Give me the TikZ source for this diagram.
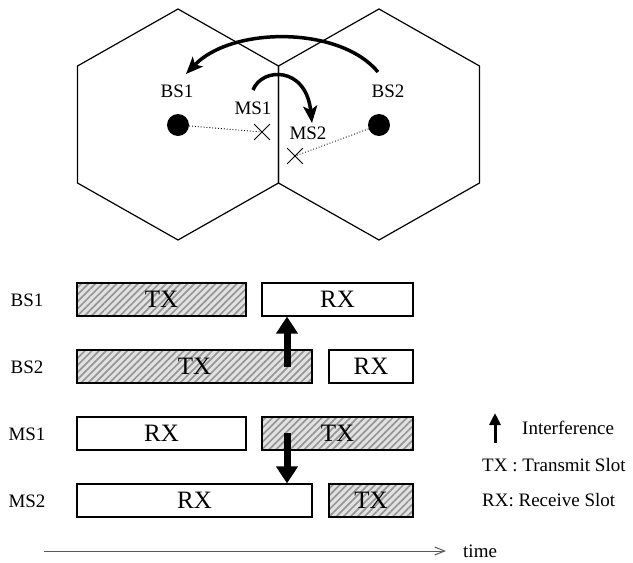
\documentclass[tikz,border=0pt]{standalone}
\usepackage{fontspec}
\setmainfont{Liberation Serif}
\usepackage{xcolor}
\usetikzlibrary{arrows.meta, patterns.meta, shapes.misc}
\definecolor{ink}{RGB}{0,0,0}
\definecolor{hatchbg}{RGB}{226,226,226}
\definecolor{hatchln}{RGB}{150,150,150}
\definecolor{axisgrey}{RGB}{90,90,90}

\begin{document}
\begin{tikzpicture}[x=1pt, y=-1pt,
    cell/.style={draw=ink, line width=1.2pt, line join=miter},
    lbl/.style={font=\fontsize{19}{19}\selectfont, text=ink, inner sep=3pt},
    bsdot/.style={circle, fill=ink, minimum size=22pt, inner sep=0pt},
    mscross/.style={cross out, draw=ink, line width=0.8pt, minimum size=15pt, inner sep=0pt},
    link/.style={dotted, line width=0.9pt, draw=ink},
    hoarc/.style={line width=3.5pt, draw=ink, -{Stealth[length=17pt, width=14pt, inset=4pt]}},
    slot/.style={draw=ink, line width=1.2pt, minimum height=33pt, inner sep=0pt,
                 font=\fontsize{25}{25}\selectfont},
    txslot/.style={slot, preaction={fill=hatchbg},
                   pattern={Lines[angle=45, distance=5pt, line width=1.7pt]}, pattern color=hatchln},
    intf/.style={line width=7pt, draw=ink, -{Triangle[length=17pt, width=21pt]}},
    legarrow/.style={line width=3pt, draw=ink, -{Triangle[length=12pt, width=11pt]}},
    timeaxis/.style={line width=1pt, draw=axisgrey, -{Straight Barb[length=10pt, width=8pt]}}
  ]
  \useasboundingbox (0,0) rectangle (633,563);

  % ---------------- cells ----------------
  \foreach \cx in {178,379}
    \draw[cell] (\cx,9) -- ++(100.5,57) -- ++(0,117) -- ++(-100.5,57)
                -- ++(-100.5,-57) -- ++(0,-117) -- cycle;

  \node[bsdot] (bs1) at (178,125) {};
  \node[bsdot] (bs2) at (379,125) {};
  \node[mscross] (ms1) at (262,132) {};
  \node[mscross] (ms2) at (295,156) {};
  \node[lbl] (bs1lbl) at (177,91) {BS1};
  \node[lbl] (bs2lbl) at (388,91) {BS2};
  \node[lbl] (ms1lbl) at (253,108) {MS1};
  \node[lbl] (ms2lbl) at (308,133) {MS2};
  \draw[link] (bs1) -- (ms1.center);
  \draw[link] (bs2) -- (ms2.center);

  % handover arcs
  \coordinate (bigfrom) at (378,72);
  \coordinate (bigto) at (186,74);
  \coordinate (smallfrom) at (253,90);
  \coordinate (smallto) at (312,123);
  \draw[hoarc] (bigfrom) .. controls (340,26) and (232,26) .. (bigto);
  \draw[hoarc] (smallfrom) .. controls (262,67) and (306,66) .. (smallto);

  % ---------------- slots ----------------
  \node[lbl] (rbs1) at (27,300) {BS1};
  \node[lbl] (rbs2) at (27,367) {BS2};
  \node[lbl] (rms1) at (27,434) {MS1};
  \node[lbl] (rms2) at (27,501) {MS2};

  \node[txslot, minimum width=169pt] (bs1tx) at (161.5,299.5) {TX};
  \node[slot, minimum width=151pt] (bs1rx) at (337.5,299.5) {RX};
  \node[txslot, minimum width=235pt] (bs2tx) at (194.5,366.5) {TX};
  \node[slot, minimum width=84pt] (bs2rx) at (371,366.5) {RX};
  \node[slot, minimum width=169pt] (ms1rx) at (161.5,433.5) {RX};
  \node[txslot, minimum width=151pt] (ms1tx) at (337.5,433.5) {TX};
  \node[slot, minimum width=235pt] (ms2rx) at (194.5,500.5) {RX};
  \node[txslot, minimum width=84pt] (ms2tx) at (371,500.5) {TX};

  % interference
  \coordinate (ifup) at (287,367);
  \coordinate (ifdown) at (287,433);
  \draw[intf] (ifup) -- (ifup |- bs1rx.south);
  \draw[intf] (ifdown) -- (ifdown |- ms2rx.north);

  % ---------------- legend ----------------
  \coordinate (legtail) at (495,443);
  \coordinate (legtip) at (495,413);
  \draw[legarrow] (legtail) -- (legtip);
  \node[lbl, anchor=west] (keyif) at (519,428) {Interference};
  \node[lbl, anchor=west] (keytx) at (479,465) {TX : Transmit Slot};
  \node[lbl, anchor=west] (keyrx) at (479,500) {RX: Receive Slot};

  \coordinate (t0) at (44,551);
  \node[lbl, anchor=west] (timelbl) at (460,551) {time};
  \draw[timeaxis] (t0) -- ([xshift=-14pt]timelbl.west);
\end{tikzpicture}
\end{document}
